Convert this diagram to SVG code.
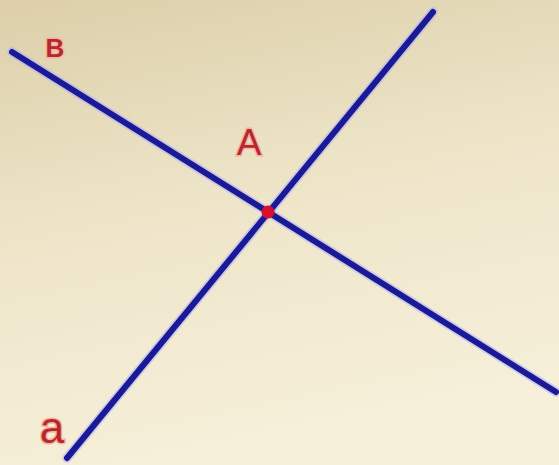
<svg xmlns="http://www.w3.org/2000/svg" width="559" height="465" viewBox="0 0 559 465">
<defs>
<linearGradient id="bg" x1="0" y1="0" x2="0.25" y2="1">
<stop offset="0" stop-color="#dccfa9"/>
<stop offset="0.5" stop-color="#eee5c9"/>
<stop offset="1" stop-color="#f6efd9"/>
</linearGradient>
</defs>
<style>
.ln{stroke:#1a1a96;stroke-width:6;stroke-linecap:round;fill:none}
.halo{stroke:#a8a8ff;stroke-width:9.5;stroke-linecap:round;fill:none;opacity:0.5}
.lbl{fill:#b8282a;stroke:#f4b4a4;stroke-width:3;paint-order:stroke;font-family:"Liberation Sans",Arial,sans-serif}
</style>
<rect width="559" height="465" fill="url(#bg)"/>
<g id="connectors">
<line class="halo" x1="12" y1="52" x2="556" y2="392"/>
<line class="halo" x1="433" y1="12" x2="67" y2="458"/>
<line class="ln" x1="12" y1="52" x2="556" y2="392"/>
<line class="ln" x1="433" y1="12" x2="67" y2="458"/>
</g>
<g id="pointA">
<circle cx="268" cy="212" r="6.5" fill="#d8102c"/>
</g>
<g id="labelB"><text class="lbl" x="55" y="57" font-size="26" font-weight="bold" text-anchor="middle">B</text></g>
<g id="labelA"><text class="lbl" x="249" y="155" font-size="37" text-anchor="middle">A</text></g>
<g id="labela"><text class="lbl" x="52" y="443" font-size="44" text-anchor="middle">a</text></g>
</svg>
